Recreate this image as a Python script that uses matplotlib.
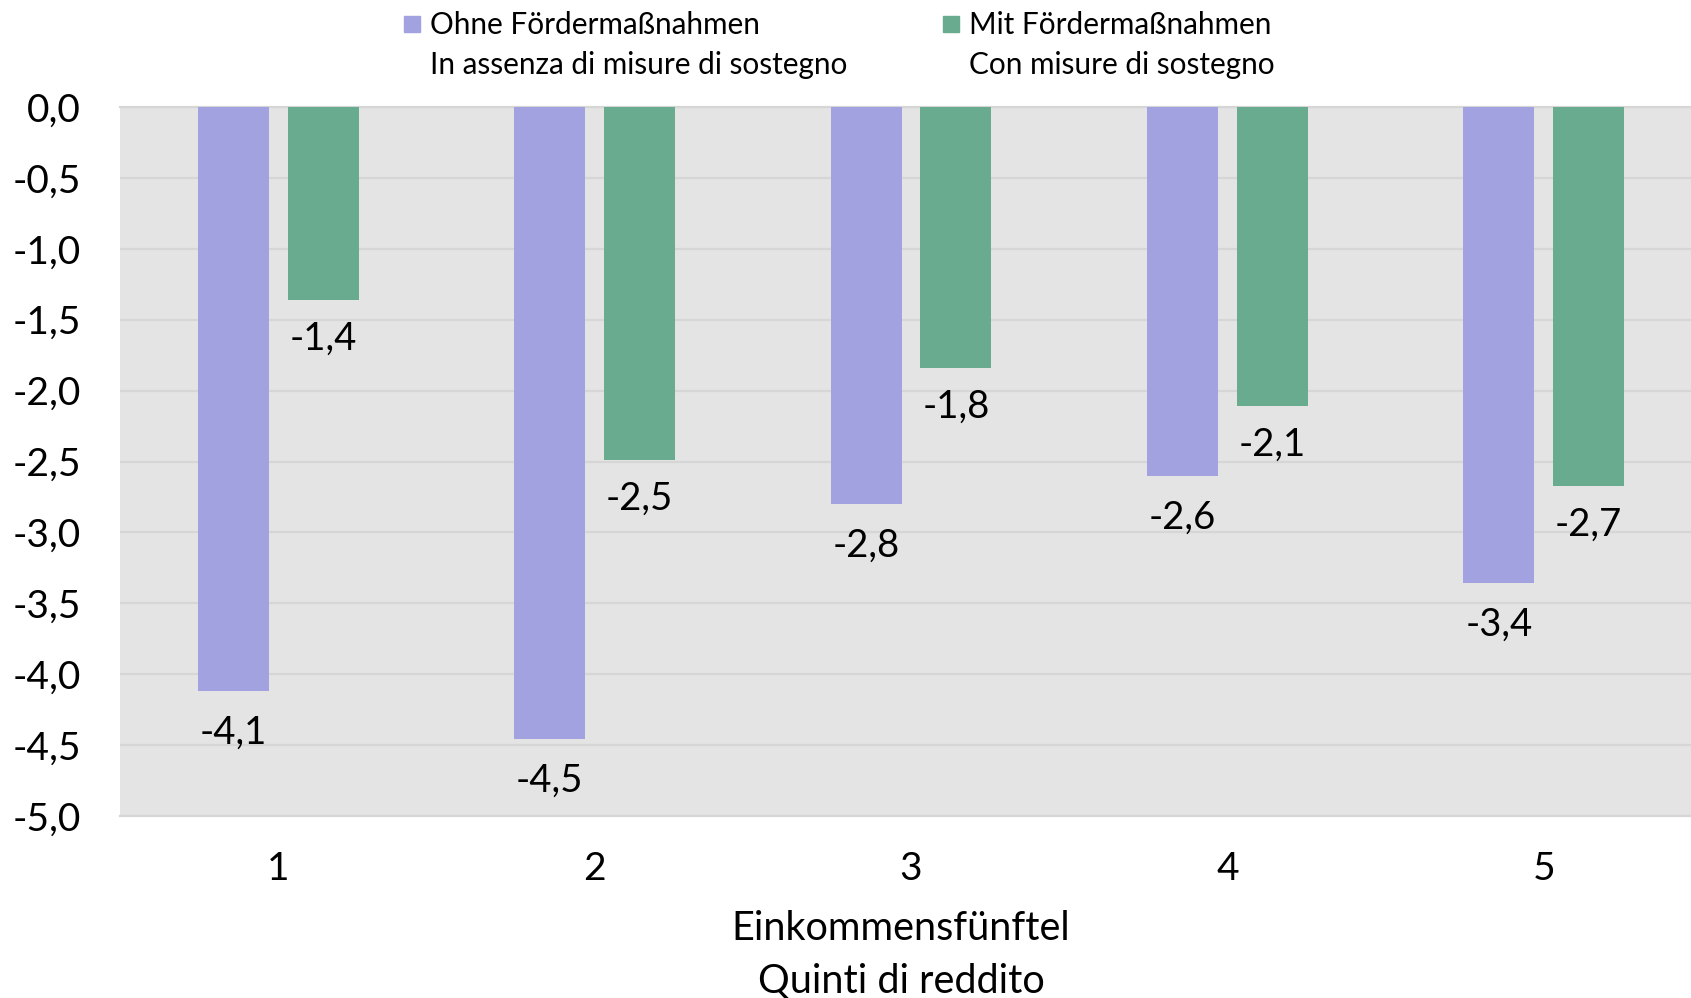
import matplotlib
matplotlib.use("Agg")
import matplotlib.pyplot as plt
from matplotlib.patches import Rectangle
import numpy as np

categories = ["1", "2", "3", "4", "5"]
ohne = [-4.12, -4.46, -2.80, -2.60, -3.36]
mit = [-1.36, -2.49, -1.84, -2.11, -2.67]
series_labels = [("Ohne Fördermaßnahmen", "In assenza di misure di sostegno"),
                 ("Mit Fördermaßnahmen", "Con misure di sostegno")]
yticks = [0.0, -0.5, -1.0, -1.5, -2.0, -2.5, -3.0, -3.5, -4.0, -4.5, -5.0]
xlabel_lines = ["Einkommensfünftel", "Quinti di reddito"]

plt.rcParams['font.family'] = ['Lato', 'DejaVu Sans']

W, H = 1691, 998
fig = plt.figure(figsize=(W / 100, H / 100), dpi=100)
left, right, top, bottom = 120, 1702, 107, 816
ax = fig.add_axes([left / W, 1 - bottom / H, (right - left) / W, (bottom - top) / H])

purple = "#A3A2E0"
green = "#68AB8E"
ax.set_facecolor("#E4E4E4")

x = np.arange(1, len(categories) + 1)
bw = 0.224
off = 0.142
ax.bar(x - off, ohne, width=bw, color=purple, zorder=3)
ax.bar(x + off, mit, width=bw, color=green, zorder=3)

def fmt(v):
    return f"{v:.1f}".replace(".", ",")

for xi, v in zip(x - off, ohne):
    ax.annotate(fmt(v), (xi, v), xytext=(0, -30), textcoords="offset points",
                ha="center", va="center", fontsize=27.5, zorder=4)
for xi, v in zip(x + off, mit):
    ax.annotate(fmt(v), (xi, v), xytext=(0, -28), textcoords="offset points",
                ha="center", va="center", fontsize=27.5, zorder=4)

ax.set_xlim(0.5, 5.5)
ax.set_ylim(-5.0, 0.0)
ax.set_yticks(yticks)
ax.set_yticklabels([fmt(t) for t in yticks], fontsize=28)
ax.set_xticks(x)
ax.set_xticklabels(categories, fontsize=28)
ax.tick_params(axis="both", length=0)
ax.tick_params(axis="y", pad=28)
ax.tick_params(axis="x", pad=25)
ax.grid(axis="y", color="#D6D6D6", linewidth=1.6, zorder=1)
ax.set_axisbelow(True)
for s in ["left", "right"]:
    ax.spines[s].set_visible(False)
for s in ["top", "bottom"]:
    ax.spines[s].set_color("#D6D6D6")
    ax.spines[s].set_linewidth(1.6)

# x label (two lines)
fig.text(901 / W, 1 - 928 / H, xlabel_lines[0], ha="center", va="center", fontsize=28.5)
fig.text(901 / W, 1 - 981 / H, xlabel_lines[1], ha="center", va="center", fontsize=28.5)

# legend
for (l1, l2), col, sx in zip(series_labels, [purple, green], [404, 943]):
    fig.add_artist(Rectangle((sx / W, 1 - 32 / H), 16 / W, 16 / H,
                             transform=fig.transFigure, color=col))
    fig.text((sx + 26) / W, 1 - 25 / H, l1, ha="left", va="center", fontsize=21.4)
    fig.text((sx + 26) / W, 1 - 65 / H, l2, ha="left", va="center", fontsize=21.4)

fig.savefig("out.png", dpi=100)
